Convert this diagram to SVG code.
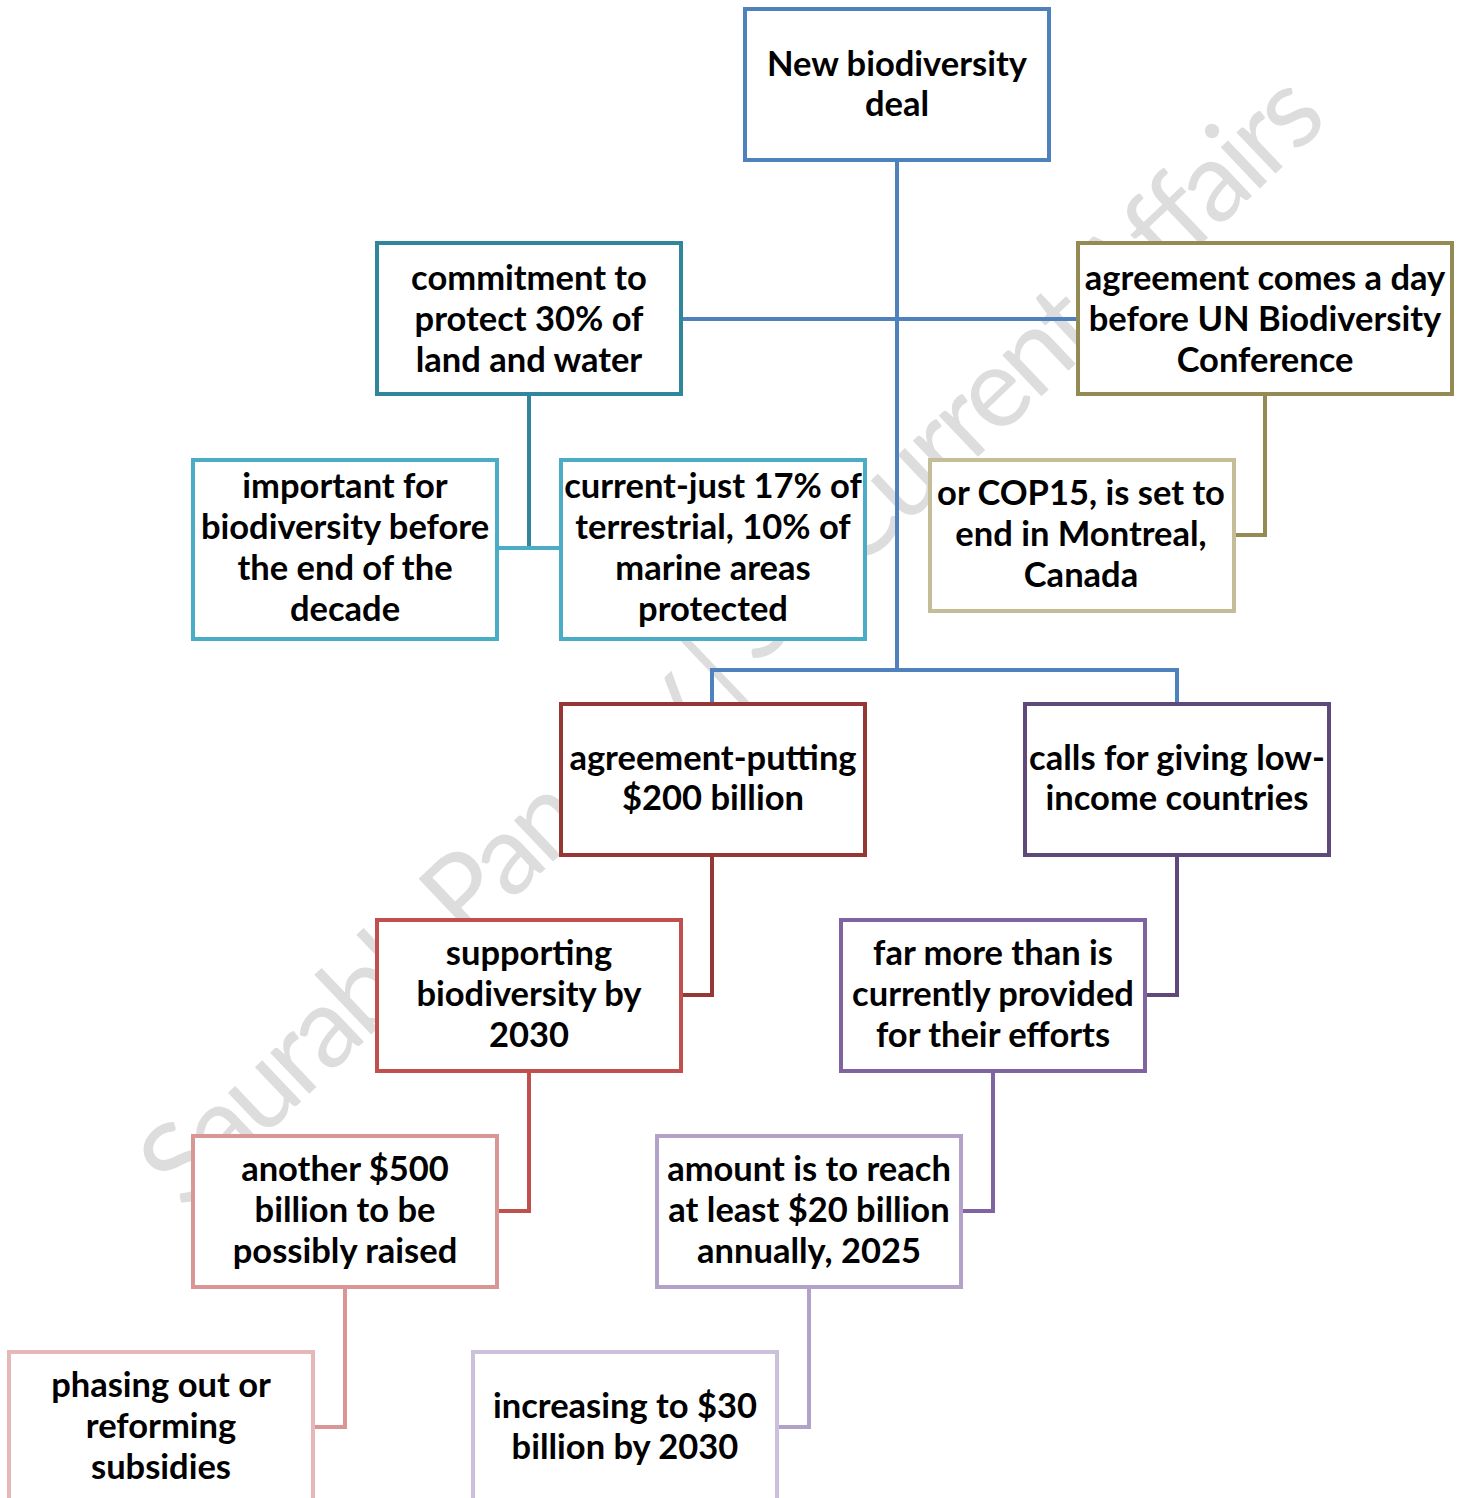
<svg xmlns="http://www.w3.org/2000/svg" width="1464" height="1498" viewBox="0 0 1464 1498">
<style>
.box{fill:#fff;stroke-width:4}
.ln{fill:none;stroke-width:4;stroke-linejoin:miter}
.lbl{font-family:Lato,"Open Sans","Liberation Sans",sans-serif;font-weight:700;font-size:34.5px;text-anchor:middle;fill:#000}
.wm{font-family:Lato,"Liberation Sans",sans-serif;font-size:112px;fill:#DDDDDD}
</style>
<rect width="1464" height="1498" fill="#fff"/>
<g id="watermark">
<text class="wm" x="0" y="0" transform="translate(185,1212) rotate(-43.6)" textLength="1582" lengthAdjust="spacing">Saurabh Pandey | Sir Current Affairs</text>
</g>
<g id="connectors">
<path class="ln" stroke="#4F81BD" d="M897,160V670M682,319H1077M712,703V670H1177V703"/>
<path class="ln" stroke="#31859C" d="M529,395V548"/>
<path class="ln" stroke="#4BACC6" d="M497,548H560"/>
<path class="ln" stroke="#948A54" d="M1265,395V535H1234"/>
<path class="ln" stroke="#953735" d="M712,855V995H682"/>
<path class="ln" stroke="#5F497A" d="M1177,855V995H1146"/>
<path class="ln" stroke="#C0504D" d="M529,1071V1211H497"/>
<path class="ln" stroke="#8064A2" d="M993,1071V1211H962"/>
<path class="ln" stroke="#D99694" d="M345,1287V1427H313"/>
<path class="ln" stroke="#B3A2C7" d="M809,1287V1427H777"/>
</g>
<g id="n-root">
<rect class="box" stroke="#4F81BD" x="745" y="9" width="304" height="151"/>
<text class="lbl" x="897"><tspan x="897" y="76">New biodiversity</tspan><tspan x="897" y="116">deal</tspan></text>
</g>
<g id="n-commitment">
<rect class="box" stroke="#31859C" x="377" y="243" width="304" height="151"/>
<text class="lbl"><tspan x="529" y="290">commitment to</tspan><tspan x="529" y="331">protect 30% of</tspan><tspan x="529" y="372">land and water</tspan></text>
</g>
<g id="n-agreement-day">
<rect class="box" stroke="#948A54" x="1078" y="243" width="374" height="151"/>
<text class="lbl"><tspan x="1265" y="290">agreement comes a day</tspan><tspan x="1265" y="331">before UN Biodiversity</tspan><tspan x="1265" y="372">Conference</tspan></text>
</g>
<g id="n-important">
<rect class="box" stroke="#4BACC6" x="193" y="460" width="304" height="179"/>
<text class="lbl"><tspan x="345" y="498">important for</tspan><tspan x="345" y="539">biodiversity before</tspan><tspan x="345" y="580">the end of the</tspan><tspan x="345" y="621">decade</tspan></text>
</g>
<g id="n-current">
<rect class="box" stroke="#4BACC6" x="561" y="460" width="304" height="179"/>
<text class="lbl"><tspan x="713" y="498">current-just 17% of</tspan><tspan x="713" y="539">terrestrial, 10% of</tspan><tspan x="713" y="580">marine areas</tspan><tspan x="713" y="621">protected</tspan></text>
</g>
<g id="n-cop15">
<rect class="box" stroke="#C4BD97" x="930" y="460" width="304" height="151"/>
<text class="lbl"><tspan x="1081" y="505">or COP15, is set to</tspan><tspan x="1081" y="546">end in Montreal,</tspan><tspan x="1081" y="587">Canada</tspan></text>
</g>
<g id="n-putting">
<rect class="box" stroke="#953735" x="561" y="704" width="304" height="151"/>
<text class="lbl"><tspan x="713" y="770">agreement-putting</tspan><tspan x="713" y="810">$200 billion</tspan></text>
</g>
<g id="n-calls">
<rect class="box" stroke="#5F497A" x="1025" y="704" width="304" height="151"/>
<text class="lbl"><tspan x="1177" y="770">calls for giving low-</tspan><tspan x="1177" y="810">income countries</tspan></text>
</g>
<g id="n-supporting">
<rect class="box" stroke="#C0504D" x="377" y="920" width="304" height="151"/>
<text class="lbl"><tspan x="529" y="965">supporting</tspan><tspan x="529" y="1006">biodiversity by</tspan><tspan x="529" y="1047">2030</tspan></text>
</g>
<g id="n-farmore">
<rect class="box" stroke="#8064A2" x="841" y="920" width="304" height="151"/>
<text class="lbl"><tspan x="993" y="965">far more than is</tspan><tspan x="993" y="1006">currently provided</tspan><tspan x="993" y="1047">for their efforts</tspan></text>
</g>
<g id="n-another">
<rect class="box" stroke="#D99694" x="193" y="1136" width="304" height="151"/>
<text class="lbl"><tspan x="345" y="1181">another $500</tspan><tspan x="345" y="1222">billion to be</tspan><tspan x="345" y="1263">possibly raised</tspan></text>
</g>
<g id="n-amount">
<rect class="box" stroke="#B3A2C7" x="657" y="1136" width="304" height="151"/>
<text class="lbl"><tspan x="809" y="1181">amount is to reach</tspan><tspan x="809" y="1222">at least $20 billion</tspan><tspan x="809" y="1263">annually, 2025</tspan></text>
</g>
<g id="n-phasing">
<rect class="box" stroke="#E6B9B8" x="9" y="1352" width="304" height="170"/>
<text class="lbl"><tspan x="161" y="1397">phasing out or</tspan><tspan x="161" y="1438">reforming</tspan><tspan x="161" y="1479">subsidies</tspan></text>
</g>
<g id="n-increasing">
<rect class="box" stroke="#CCC1DA" x="473" y="1352" width="304" height="170"/>
<text class="lbl"><tspan x="625" y="1418">increasing to $30</tspan><tspan x="625" y="1459">billion by 2030</tspan></text>
</g>
</svg>
